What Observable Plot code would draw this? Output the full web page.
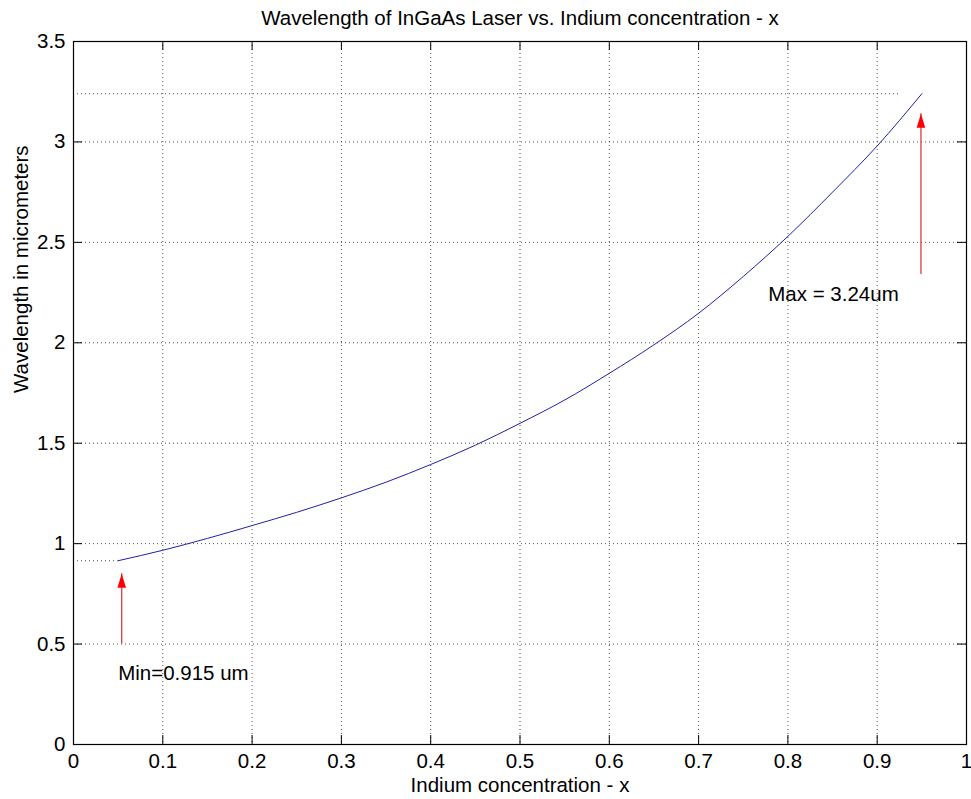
<!DOCTYPE html>
<html><head><meta charset="utf-8">
<script src="https://cdn.jsdelivr.net/npm/d3@7"></script>
<script src="https://cdn.jsdelivr.net/npm/@observablehq/plot@0.6"></script>
<style>html,body{margin:0;padding:0;background:#fff;} svg{display:block}</style>
</head><body><div id="chart"></div>
<script>
// ---- data ----
const indium = [0.05,0.1,0.15,0.2,0.25,0.3,0.35,0.4,0.45,0.5,0.55,0.6,0.65,0.7,0.75,0.8,0.85,0.9,0.95];
const wavelength = [0.915,0.967,1.026,1.09,1.156,1.228,1.306,1.394,1.49,1.599,1.715,1.848,1.99,2.147,2.33,2.53,2.75,2.98,3.24];
const xTicks = [0,0.1,0.2,0.3,0.4,0.5,0.6,0.7,0.8,0.9,1];
const xTickLabels = ["0","0.1","0.2","0.3","0.4","0.5","0.6","0.7","0.8","0.9","1"];
const yTicks = [0,0.5,1,1.5,2,2.5,3,3.5];
const yTickLabels = ["0","0.5","1","1.5","2","2.5","3","3.5"];
const guideX1 = [0, 0];
const guideX2 = [0.05, 0.925];
const guideY = [0.915, 3.24];
const arrowX = [0.054, 0.949];
const arrowFrom = [0.5, 2.34];
const arrowTo = [0.85, 3.14];
const noteX = [0.05, 0.778];
const noteY = [0.352, 2.243];
const noteText = ["Min=0.915 um", "Max = 3.24um"];
const title = "Wavelength of InGaAs Laser vs. Indium concentration - x";
const xLabel = "Indium concentration - x";
const yLabel = "Wavelength in micrometers";

// ---- layout / style ----
const W = 971, H = 799;
const M = {top: 41, right: 5, bottom: 55, left: 73};
const innerW = W - M.left - M.right;
const innerH = H - M.top - M.bottom;
const tickLen = 9;
const font = '"Liberation Sans", Arial, Helvetica, sans-serif';
const fs = 20.5;

const curve = indium.map((x, i) => ({x, y: wavelength[i]}));
const guides = guideY.map((y, i) => ({x1: guideX1[i], x2: guideX2[i], y}));
const arrows = arrowX.map((x, i) => ({x, from: arrowFrom[i], to: arrowTo[i]}));
const notes = noteText.map((t, i) => ({x: noteX[i], y: noteY[i], t}));

const arrowHead = {draw(ctx) { ctx.moveTo(0, 0); ctx.lineTo(4.3, 14); ctx.lineTo(-4.3, 14); ctx.closePath(); }};
const grid = {stroke: "#333", strokeOpacity: 0.85, strokeDasharray: "1,3", strokeWidth: 1};

const chart = Plot.plot({
  width: W, height: H,
  marginTop: M.top, marginRight: M.right, marginBottom: M.bottom, marginLeft: M.left,
  x: {domain: [0, 1]},
  y: {domain: [0, 3.5]},
  style: {fontFamily: font, fontSize: fs + "px", color: "#000", background: "#fff"},
  marks: [
    Plot.ruleX(xTicks, {...grid}),
    Plot.ruleY(yTicks, {...grid}),
    Plot.ruleY(guides, {x1: "x1", x2: "x2", y: "y", ...grid}),
    Plot.line(curve, {x: "x", y: "y", stroke: "#2020a8", strokeWidth: 1, curve: "monotone-x"}),
    Plot.ruleX(arrows, {x: "x", y1: "from", y2: "to", stroke: "#e03a3a", strokeWidth: 1.3}),
    Plot.dot(arrows, {x: "x", y: "to", symbol: arrowHead, fill: "#ff0000", stroke: "none", r: 5}),
    Plot.text(notes, {x: "x", y: "y", text: "t", textAnchor: "start", fontSize: fs, fill: "#000"}),
    Plot.ruleX(xTicks, {insetTop: innerH - tickLen, stroke: "#000"}),
    Plot.ruleX(xTicks, {insetBottom: innerH - tickLen, stroke: "#000"}),
    Plot.ruleY(yTicks, {insetRight: innerW - tickLen, stroke: "#000"}),
    Plot.ruleY(yTicks, {insetLeft: innerW - tickLen, stroke: "#000"}),
    Plot.frame({stroke: "#000", strokeWidth: 1.2}),
    Plot.axisX(xTicks, {anchor: "bottom", tickSize: 0, tickPadding: 9, label: null, fontSize: fs,
      tickFormat: d => xTickLabels[xTicks.indexOf(d)]}),
    Plot.axisY(yTicks, {anchor: "left", tickSize: 0, tickPadding: 8, label: null, fontSize: fs,
      tickFormat: d => yTickLabels[yTicks.indexOf(d)]}),
    Plot.text([title], {frameAnchor: "top", dy: -31.5, fontSize: fs, fill: "#000"}),
    Plot.text([xLabel], {frameAnchor: "bottom", dy: 47.5, fontSize: fs, fill: "#000"}),
    Plot.text([yLabel], {frameAnchor: "left", rotate: -90, dx: -52, fontSize: fs, fill: "#000"})
  ]
});
document.getElementById("chart").appendChild(chart);
</script>
</body></html>
